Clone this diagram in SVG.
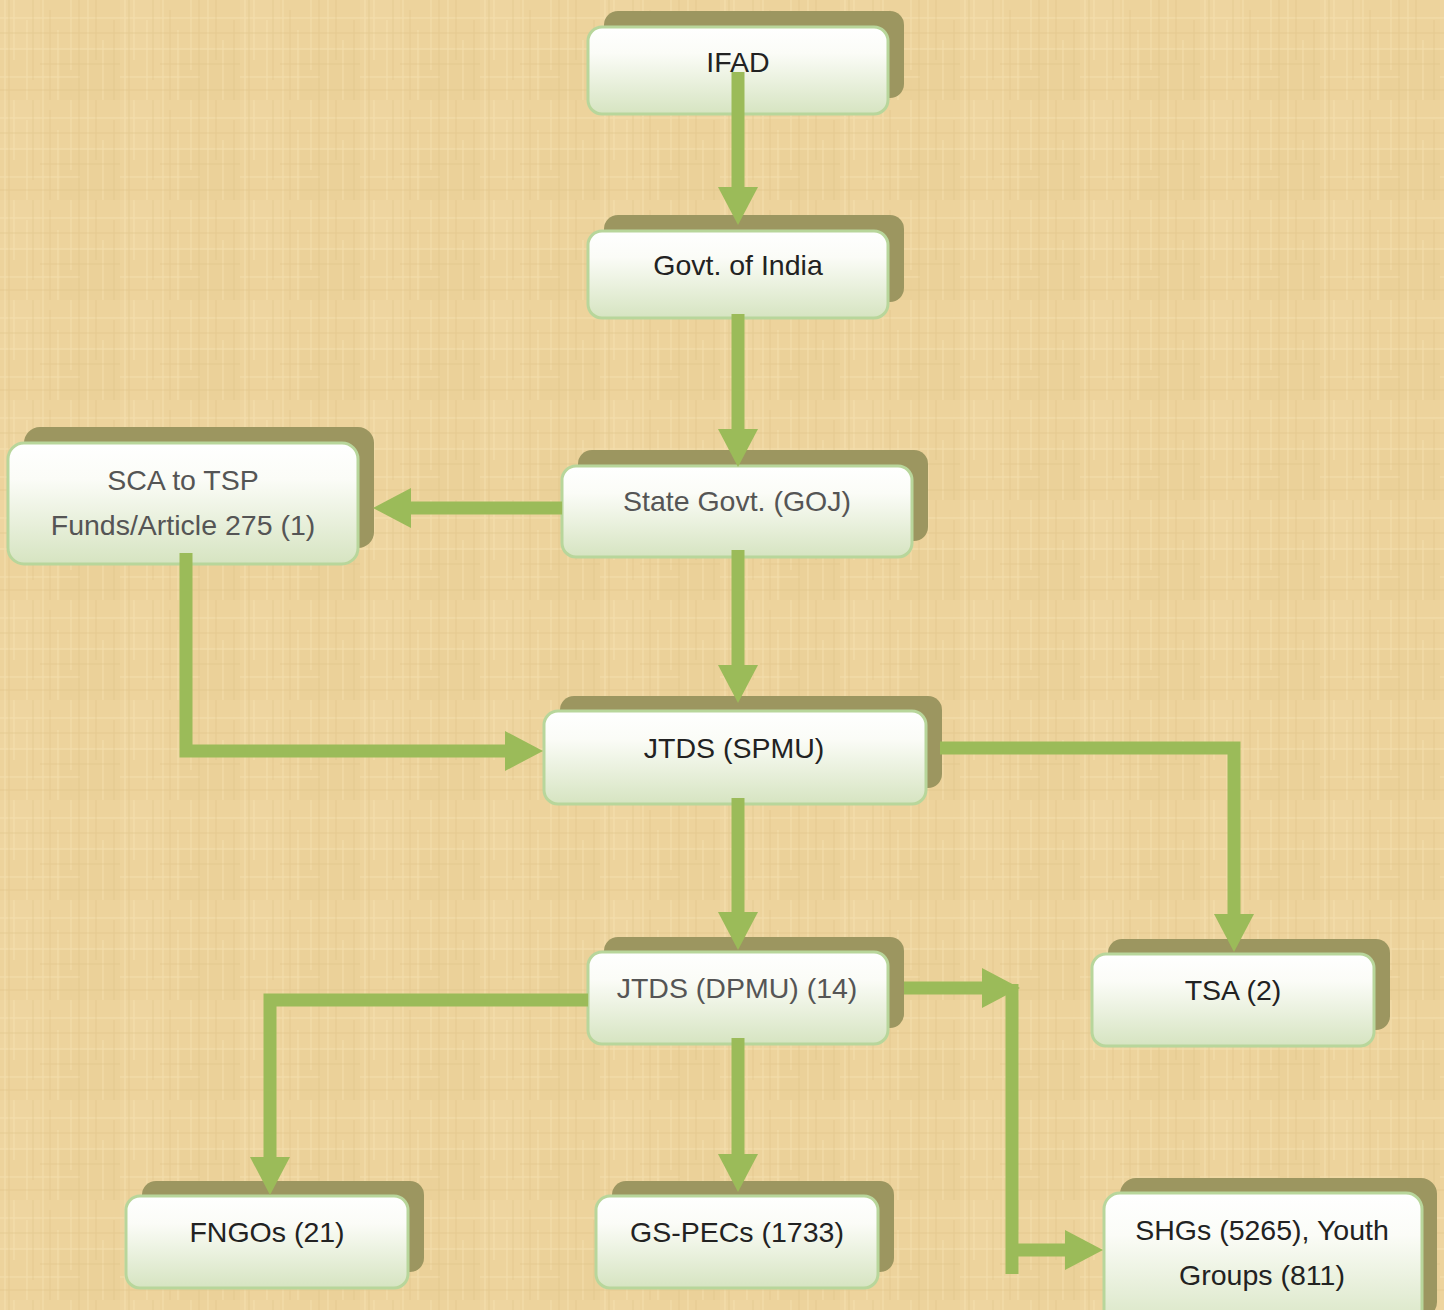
<svg xmlns="http://www.w3.org/2000/svg" width="1444" height="1310" viewBox="0 0 1444 1310">
<defs>
  <pattern id="tex" x="0" y="0" width="120" height="100" patternUnits="userSpaceOnUse">
    <rect width="120" height="100" fill="#edd39c"/>
    <rect x="0" y="0" width="40" height="50" fill="#f0d8a4" opacity="0.4"/>
    <rect x="60" y="50" width="60" height="50" fill="#e8cd94" opacity="0.4"/>
    <g stroke="#f6e2b4" stroke-width="1" opacity="0.7">
      <line x1="5" y1="0" x2="5" y2="100"/>
      <line x1="14" y1="0" x2="14" y2="60"/>
      <line x1="27" y1="20" x2="27" y2="100"/>
      <line x1="43" y1="0" x2="43" y2="100"/>
      <line x1="58" y1="30" x2="58" y2="100"/>
      <line x1="71" y1="0" x2="71" y2="70"/>
      <line x1="88" y1="0" x2="88" y2="100"/>
      <line x1="103" y1="40" x2="103" y2="100"/>
      <line x1="0" y1="18" x2="120" y2="18"/>
      <line x1="0" y1="49" x2="120" y2="49"/>
      <line x1="0" y1="77" x2="80" y2="77"/>
    </g>
    <g stroke="#dcbf84" stroke-width="1" opacity="0.5">
      <line x1="9" y1="0" x2="9" y2="100"/>
      <line x1="33" y1="0" x2="33" y2="80"/>
      <line x1="50" y1="10" x2="50" y2="100"/>
      <line x1="79" y1="0" x2="79" y2="100"/>
      <line x1="96" y1="0" x2="96" y2="60"/>
      <line x1="114" y1="20" x2="114" y2="100"/>
      <line x1="0" y1="33" x2="120" y2="33"/>
      <line x1="40" y1="64" x2="120" y2="64"/>
      <line x1="0" y1="90" x2="120" y2="90"/>
    </g>
  </pattern>
  <linearGradient id="boxg" x1="0" y1="0" x2="0" y2="1">
    <stop offset="0" stop-color="#ffffff"/>
    <stop offset="0.3" stop-color="#fbfcf7"/>
    <stop offset="1" stop-color="#d6e4c1"/>
  </linearGradient>
  <marker id="ah" viewBox="0 0 38 40" refX="2" refY="20" markerWidth="38" markerHeight="40" markerUnits="userSpaceOnUse" orient="auto">
    <path d="M0,0 L38,20 L0,40 z" fill="#9bbb59"/>
  </marker>
  <style>
    .sh { fill: #9c9660; }
    .bx { fill: url(#boxg); stroke: #b8d69b; stroke-width: 3; }
    .t { font-family: "Liberation Sans", Arial, sans-serif; font-size: 28.5px; text-anchor: middle; }
    .dk { fill: #222222; }
    .gy { fill: #555555; }
    .c { fill: none; stroke: #9bbb59; stroke-width: 13; stroke-linejoin: miter; }
    .ca { marker-end: url(#ah); }
  </style>
</defs>
<rect width="1444" height="1310" fill="url(#tex)"/>

<g id="n-ifad">
  <rect class="sh" x="604" y="11" width="300" height="87" rx="14"/>
  <rect class="bx" x="588" y="27" width="300" height="87" rx="14"/>
  <text class="t dk" x="738" y="72">IFAD</text>
</g>
<g id="n-goi">
  <rect class="sh" x="604" y="215" width="300" height="87" rx="14"/>
  <rect class="bx" x="588" y="231" width="300" height="87" rx="14"/>
  <text class="t dk" x="738" y="275">Govt. of India</text>
</g>
<g id="n-sca">
  <rect class="sh" x="24" y="427" width="350" height="121" rx="16"/>
  <rect class="bx" x="8" y="443" width="350" height="121" rx="16"/>
  <text class="t gy" x="183" y="490">SCA to TSP</text>
  <text class="t gy" x="183" y="535">Funds/Article 275 (1)</text>
</g>
<g id="n-state">
  <rect class="sh" x="578" y="450" width="350" height="91" rx="14"/>
  <rect class="bx" x="562" y="466" width="350" height="91" rx="14"/>
  <text class="t gy" x="737" y="511">State Govt. (GOJ)</text>
</g>
<g id="n-spmu">
  <rect class="sh" x="560" y="696" width="382" height="92" rx="14"/>
  <rect class="bx" x="544" y="711" width="382" height="93" rx="14"/>
  <text class="t dk" x="734" y="758">JTDS (SPMU)</text>
</g>
<g id="n-dpmu">
  <rect class="sh" x="604" y="937" width="300" height="91" rx="14"/>
  <rect class="bx" x="588" y="952" width="300" height="92" rx="14"/>
  <text class="t gy" x="737" y="998">JTDS (DPMU) (14)</text>
</g>
<g id="n-tsa">
  <rect class="sh" x="1108" y="939" width="282" height="91" rx="14"/>
  <rect class="bx" x="1092" y="954" width="282" height="92" rx="14"/>
  <text class="t dk" x="1233" y="1000">TSA (2)</text>
</g>
<g id="n-fngo">
  <rect class="sh" x="142" y="1181" width="282" height="91" rx="14"/>
  <rect class="bx" x="126" y="1196" width="282" height="92" rx="14"/>
  <text class="t dk" x="267" y="1242">FNGOs (21)</text>
</g>
<g id="n-gspec">
  <rect class="sh" x="612" y="1181" width="282" height="91" rx="14"/>
  <rect class="bx" x="596" y="1196" width="282" height="92" rx="14"/>
  <text class="t dk" x="737" y="1242">GS-PECs (1733)</text>
</g>
<g id="n-shg">
  <rect class="sh" x="1120" y="1178" width="317" height="140" rx="16"/>
  <rect class="bx" x="1104" y="1193" width="318" height="140" rx="16"/>
  <text class="t dk" x="1262" y="1240">SHGs (5265), Youth</text>
  <text class="t dk" x="1262" y="1285">Groups (811)</text>
</g>

<g id="connectors">
  <path class="c ca" d="M738,72 V189"/>
  <path class="c ca" d="M738,314 V431"/>
  <path class="c ca" d="M562,508 H409"/>
  <path class="c ca" d="M186,553 V751 H507"/>
  <path class="c ca" d="M738,550 V667"/>
  <path class="c ca" d="M940,748 H1234 V916"/>
  <path class="c ca" d="M738,798 V914"/>
  <path class="c ca" d="M588,1000 H270 V1159"/>
  <path class="c ca" d="M738,1038 V1156"/>
  <path class="c ca" d="M904,988 H984"/>
  <path class="c" d="M1012,984 V1274"/>
  <path class="c ca" d="M1012,1250 H1067"/>
</g>
</svg>
